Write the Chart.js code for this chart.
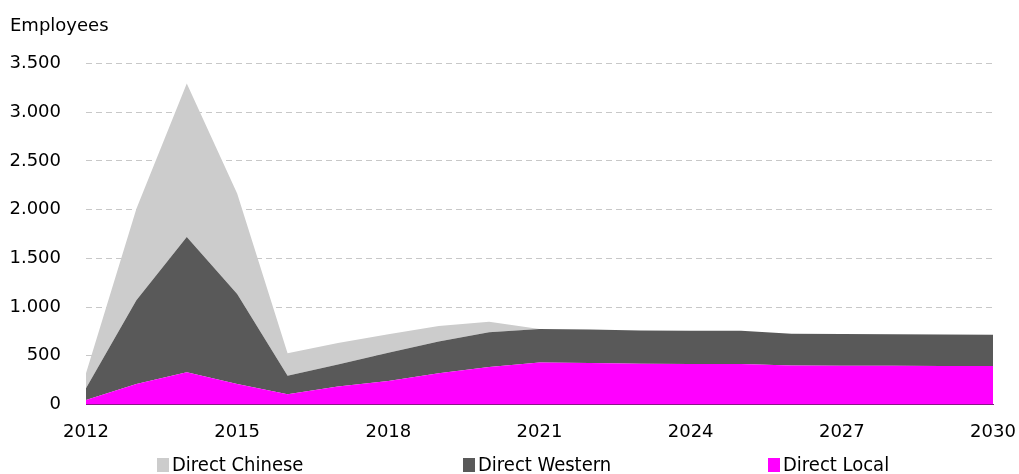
<!DOCTYPE html>
<html>
<head>
<meta charset="utf-8">
<script src="https://cdn.jsdelivr.net/npm/chart.js@4/dist/chart.umd.min.js"></script>
<style>
  html, body { margin: 0; padding: 0; background: #fff; }
  #wrap { width: 1019px; height: 474px; }
</style>
</head>
<body>
<div id="wrap"><canvas id="employeesChart" width="1019" height="474"></canvas></div>
<script>
const years = ['2012', '2013', '2014', '2015', '2016', '2017', '2018', '2019', '2020', '2021',
  '2022', '2023', '2024', '2025', '2026', '2027', '2028', '2029', '2030'];
const directLocal = [45, 210, 330, 210, 105, 185, 240, 320, 385, 430,
  425, 418, 416, 416, 400, 397, 396, 395, 394];
const directWestern = [120, 860, 1390, 925, 190, 225, 290, 325, 355, 345,
  345, 342, 341, 341, 326, 325, 324, 323, 321];
const directChinese = [155, 940, 1575, 1030, 230, 220, 190, 160, 110, 0,
  0, 0, 0, 0, 0, 0, 0, 0, 0];
const yTicks = [0, 500, 1000, 1500, 2000, 2500, 3000, 3500];

// legend drawn by hand so the three items sit spread out like the original
const spreadLegend = {
  id: 'spreadLegend',
  afterDraw(chart) {
    const c = chart.ctx;
    const starts = [157, 463, 768];
    const order = [2, 1, 0];
    c.save();
    c.font = '20px "DejaVu Sans Condensed"';
    c.textBaseline = 'middle';
    order.forEach((dsIndex, i) => {
      const ds = chart.data.datasets[dsIndex];
      c.fillStyle = ds.backgroundColor;
      c.fillRect(starts[i], 458, 12, 14);
      c.fillStyle = '#000';
      c.fillText(ds.label, starts[i] + 15, 466);
    });
    c.restore();
  },
};

const ctx = document.getElementById('employeesChart');
new Chart(ctx, {
  type: 'line',
  data: {
    labels: years,
    datasets: [
      {
        label: 'Direct Local',
        data: directLocal,
        backgroundColor: '#ff00ff',
        borderColor: '#ff00ff',
        borderWidth: 0,
        fill: 'origin',
      },
      {
        label: 'Direct Western',
        data: directWestern,
        backgroundColor: '#595959',
        borderColor: '#595959',
        borderWidth: 0,
        fill: '-1',
      },
      {
        label: 'Direct Chinese',
        data: directChinese,
        backgroundColor: '#cccccc',
        borderColor: '#cccccc',
        borderWidth: 0,
        fill: '-1',
      },
    ],
  },
  options: {
    responsive: false,
    animation: false,
    layout: { padding: { left: 10, right: 0, top: 8, bottom: 22 } },
    elements: { point: { radius: 0 }, line: { tension: 0 } },
    scales: {
      x: {
        offset: false,
        afterFit: (axis) => {
          axis.paddingLeft = 0;
          axis.paddingRight = 26;
        },
        grid: { display: false },
        border: { color: '#7a1a78', width: 1 },
        ticks: {
          autoSkip: false,
          maxRotation: 0,
          padding: 9,
          color: '#000',
          font: { family: 'DejaVu Sans', size: 18 },
          callback: function (value, index) {
            return (index % 3 === 0) ? years[index] : '';
          },
        },
      },
      y: {
        stacked: true,
        min: 0,
        max: 3500,
        afterBuildTicks: (axis) => {
          axis.ticks = yTicks.map((v) => ({ value: v }));
        },
        afterFit: (axis) => {
          axis.width = 76;
        },
        border: { display: false, dash: [6, 4] },
        grid: { color: '#c8c8c8', drawTicks: false, lineWidth: 1 },
        ticks: {
          autoSkip: false,
          padding: 25,
          color: '#000',
          font: { family: 'DejaVu Sans', size: 18 },
          callback: (v) => v.toLocaleString('de-DE'),
        },
      },
    },
    plugins: {
      title: {
        display: true,
        text: 'Employees',
        align: 'start',
        color: '#000',
        font: { family: 'DejaVu Sans', size: 18, weight: 'normal' },
        padding: { top: 8, bottom: 26 },
      },
      legend: { display: false },
      tooltip: { enabled: false },
    },
  },
  plugins: [spreadLegend],
});
</script>
</body>
</html>
